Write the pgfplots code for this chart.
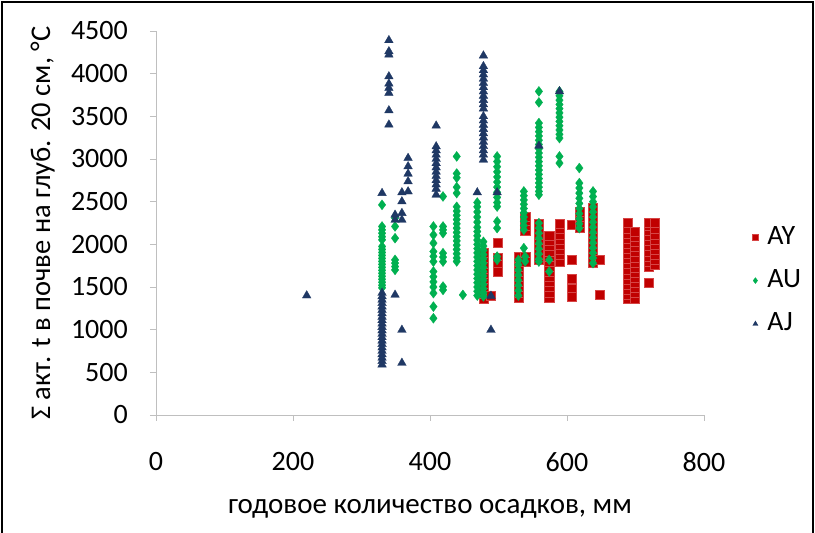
\documentclass[border=0pt]{standalone}
\usepackage{fontspec}
\setmainfont{Carlito}
\usepackage{pgfplots}
\usepackage{pgfplotstable}
\pgfplotsset{compat=1.18}
\definecolor{cAY}{HTML}{C00000}
\definecolor{cAYe}{HTML}{D64545}
\definecolor{cAU}{HTML}{00B050}
\definecolor{cAJ}{HTML}{1F3864}
\definecolor{axgray}{HTML}{BFBFBF}

\pgfplotstableread{
x y
478 1360
478 1420
478 1480
478 1540
478 1600
478 1660
478 1720
478 1780
478 1840
478 1900
489 1396
499 2021
499 1838
499 1760
499 1681
529 1380
529 1440
529 1500
529 1560
529 1620
529 1680
529 1740
529 1800
529 1850
539 2160
539 2220
539 2280
539 2320
539 1857
539 1800
559 1820
559 1880
559 1940
559 2000
559 2060
559 2120
559 2180
559 2240
574 1380
574 1440
574 1500
574 1560
574 1620
574 1680
574 1740
574 1800
574 1860
574 1920
574 1980
574 2040
574 2100
589 1800
589 1880
589 1940
589 2000
589 2060
589 2120
589 2180
589 2240
607 2229
607 1818
607 1600
607 1480
607 1390
618 2200
618 2260
618 2320
618 2380
638 1790
638 1830
638 1890
638 1950
638 2010
638 2070
638 2130
638 2190
638 2250
638 2310
638 2370
638 2430
648 1818
648 1408
689 1360
689 1410
689 1470
689 1530
689 1590
689 1650
689 1710
689 1770
689 1830
689 1890
689 1950
689 2010
689 2070
689 2130
689 2190
689 2250
699 1370
699 1430
699 1490
699 1550
699 1610
699 1670
699 1730
699 1790
699 1850
699 1910
699 1970
699 2030
699 2090
699 2150
719 1740
719 1800
719 1860
719 1920
719 1980
719 2040
719 2100
719 2160
719 2220
719 2250
719 1550
728 1760
728 1820
728 1880
728 1940
728 2000
728 2060
728 2120
728 2180
728 2250
}\dataAY

\pgfplotstableread{
x y
330 2463
330 2209
330 2170
330 2130
330 2090
330 2053
330 1975
330 1940
330 1905
330 1870
330 1835
330 1800
330 1765
330 1730
330 1695
330 1660
330 1625
330 1590
330 1555
330 1520
330 1490
349 2307
349 2209
349 2072
349 1818
349 1780
349 1740
349 1701
405 2209
405 2111
405 2014
405 1916
405 1860
405 1798
405 1681
405 1620
405 1560
405 1500
405 1428
405 1270
405 1134
419 2561
419 2209
419 2170
419 2131
419 1896
419 1850
419 1798
419 1505
419 1466
439 3030
439 2830
439 2780
439 2670
439 2600
439 2440
439 2390
439 2340
439 2290
439 2240
439 2190
439 2140
439 2090
439 2040
439 1990
439 1940
439 1890
439 1840
439 1800
448 1408
469 2490
469 2440
469 2380
469 2320
469 2260
469 2200
469 2150
469 2100
469 2050
469 2000
469 1950
469 1900
469 1850
469 1800
469 1750
469 1700
469 1650
469 1600
469 1550
469 1500
469 1450
469 1400
478 2030
478 1980
478 1930
478 1880
478 1830
478 1780
478 1730
478 1680
478 1630
478 1580
478 1530
478 1480
478 1430
478 1390
498 3030
498 2970
498 2910
498 2850
498 2790
498 2730
498 2670
498 2610
498 2550
498 2490
498 2443
498 2268
498 2190
498 1857
498 1818
529 1818
529 1760
529 1700
529 1640
529 1580
529 1520
529 1460
529 1400
537 2620
537 2570
537 2520
537 2470
537 2420
537 2370
537 2320
537 2270
537 2220
537 2170
537 1955
539 1857
539 1800
559 3792
559 3663
559 3421
559 3370
559 3320
559 3270
559 3220
559 3170
559 3120
559 3070
559 3020
559 2970
559 2920
559 2870
559 2820
559 2770
559 2720
559 2670
559 2620
559 2581
559 2248
559 2190
559 2130
559 2070
559 2010
559 1950
559 1890
559 1830
559 1798
574 1818
574 1681
589 3792
589 3740
589 3690
589 3640
589 3590
589 3540
589 3490
589 3440
589 3390
589 3340
589 3290
589 3245
589 3030
589 2952
618 2894
618 2718
618 2660
618 2600
618 2540
618 2480
618 2420
618 2360
618 2300
618 2240
618 2190
638 2620
638 2560
638 2500
638 2440
638 2380
638 2320
638 2260
638 2200
638 2140
638 2080
638 2020
638 1960
638 1900
638 1840
638 1779
}\dataAU

\pgfplotstableread{
x y
220 1400
330 2600
330 1430
330 1390
330 1350
330 1310
330 1270
330 1230
330 1190
330 1150
330 1110
330 1070
330 1030
330 990
330 950
330 910
330 870
330 830
330 790
330 750
330 710
330 670
330 630
330 590
340 4391
340 4261
340 4222
340 3967
340 3882
340 3831
340 3773
340 3569
340 3402
349 2346
349 2287
349 1408
359 2608
359 2502
359 2366
359 2287
359 997
359 610
368 3011
368 2913
368 2827
368 2737
368 2619
409 3390
409 3147
409 3100
409 3050
409 3000
409 2950
409 2900
409 2850
409 2800
409 2750
409 2700
409 2650
409 2581
469 2608
478 4211
478 4086
478 4040
478 3990
478 3940
478 3890
478 3840
478 3790
478 3740
478 3690
478 3640
478 3590
478 3500
478 3450
478 3400
478 3350
478 3300
478 3250
478 3200
478 3150
478 3100
478 3050
478 2991
489 1396
489 997
498 2608
559 3155
589 3792
}\dataAJ

\begin{document}
\fontsize{29}{34}\selectfont
\begin{tikzpicture}[x=1pt,y=1pt]
\begin{axis}[
  at={(0,0)}, anchor=south west,
  scale only axis, width=548pt, height=384pt,
  xmin=0, xmax=800, ymin=0, ymax=4500,
  xtick={0,200,...,800}, ytick={0,500,...,4500},
  axis x line*=bottom, axis y line*=left,
  axis line style={-, draw=axgray, line width=0.8pt},
  tick style={draw=axgray, line width=0.8pt},
  tick align=outside, major tick length=6pt,
  /pgf/number format/assume math mode=true,
  /pgf/number format/1000 sep={},
  xticklabel style={font=\fontsize{28}{32}\selectfont, anchor=center, yshift=-41pt},
  yticklabel style={font=\fontsize{28}{32}\selectfont, anchor=east, inner sep=0pt, xshift=-22pt},
  xlabel={годовое количество осадков, мм},
  ylabel={Σ акт. t в почве на глуб. 20 см, °C},
  xlabel style={font=\fontsize{29}{34}\selectfont, at={(axis description cs:0.5,-0.245)}, anchor=center},
  ylabel style={font=\fontsize{28.5}{34}\selectfont, at={(axis description cs:-0.207,0.5)}, anchor=center},
  legend style={draw=none, fill=none, at={(axis description cs:1.088,0.35)}, anchor=west,
    font=\fontsize{28}{32}\selectfont, row sep=17pt, inner sep=0pt},
  legend cell align=left,
  legend image post style={mark size=3pt},
  clip=false,
]
\addplot[only marks, mark=square*, mark size=4.6pt, mark options={fill=cAY, draw=cAYe, line width=0.3pt}] table {\dataAY};
\addlegendentry{\hspace{7pt}AY}
\addplot[only marks, mark=diamond*, mark size=5pt, mark options={fill=cAU, draw=cAU, line width=0.3pt}] table {\dataAU};
\addlegendentry{\hspace{7pt}AU}
\addplot[only marks, mark=triangle*, mark size=5pt, mark options={fill=cAJ, draw=cAJ, line width=0.3pt}] table {\dataAJ};
\addlegendentry{\hspace{7pt}AJ}
\end{axis}
\pgfresetboundingbox
\useasboundingbox (-156,-118) rectangle (659,415);
\draw[black, line width=2.5pt] (-154,-130) -- (-154,413) -- (657,413) -- (657,-130);
\end{tikzpicture}
\end{document}
